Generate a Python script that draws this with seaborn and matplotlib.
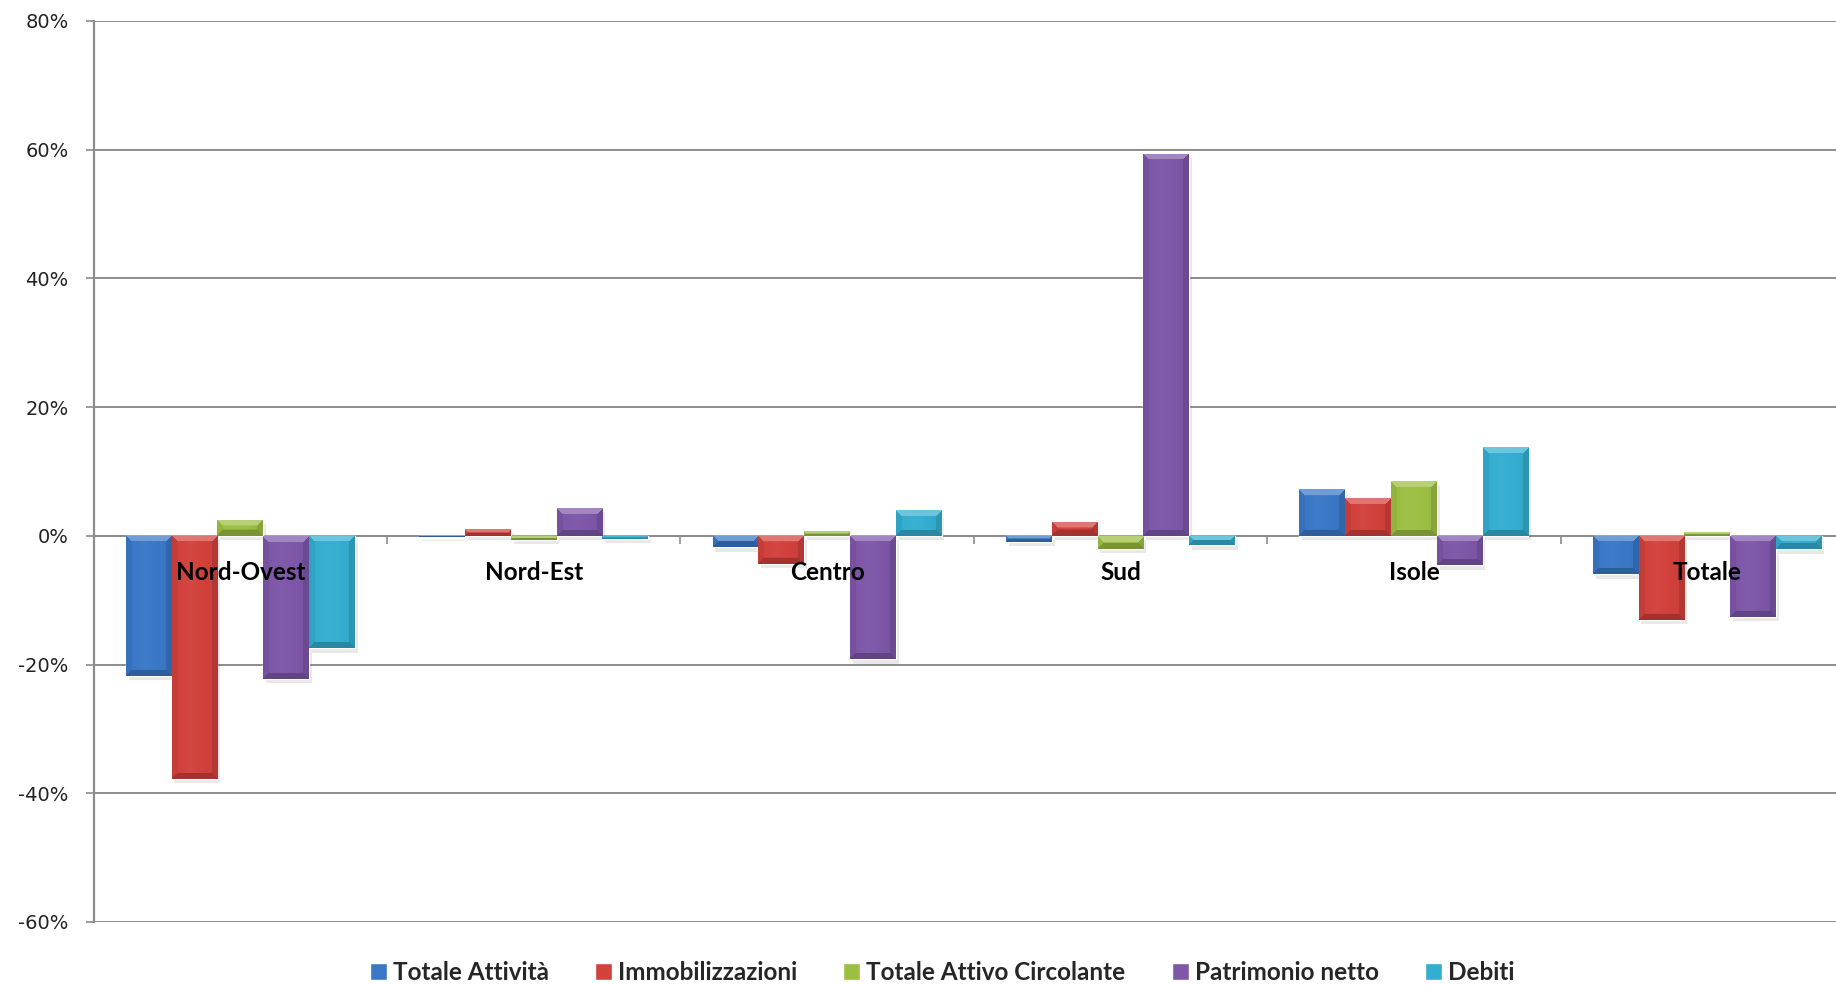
import numpy as np
import pandas as pd
import matplotlib
matplotlib.use("Agg")
import matplotlib.pyplot as plt
import matplotlib.patheffects as pe
from matplotlib.colors import to_rgb
from matplotlib.ticker import MultipleLocator, FuncFormatter, FixedLocator
import seaborn as sns

# Variazioni percentuali per area geografica
regions = ["Nord-Ovest", "Nord-Est", "Centro", "Sud", "Isole", "Totale"]
series = ["Totale Attività", "Immobilizzazioni", "Totale Attivo Circolante",
          "Patrimonio netto", "Debiti"]
totale_attivita = [-21.8, -0.2, -1.8, -1.0, 7.2, -6.0]
immobilizzazioni = [-37.8, 1.0, -4.4, 2.2, 5.9, -13.1]
attivo_circolante = [2.5, -0.6, 0.7, -2.0, 8.5, 0.6]
patrimonio_netto = [-22.2, 4.3, -19.2, 59.4, -4.6, -12.6]
debiti = [-17.5, -0.5, 4.0, -1.5, 13.8, -2.1]
colors = ["#3A78C6", "#D2413C", "#9CBF43", "#7E57A9", "#34AED0"]

values = [totale_attivita, immobilizzazioni, attivo_circolante, patrimonio_netto, debiti]
df = pd.DataFrame([
    {"Regione": r, "Serie": s, "Valore": v}
    for s, vals in zip(series, values)
    for r, v in zip(regions, vals)
])

sns.set_theme(style="white")
plt.rcParams["font.family"] = ["DejaVu Sans"]

fig = plt.figure(figsize=(18.36, 9.85), dpi=100)
ax = fig.add_axes([0.051, 0.064, 0.9588, 0.9147])

sns.barplot(data=df, x="Regione", y="Valore", hue="Serie", order=regions,
            hue_order=series, palette=colors, saturation=1, width=0.78,
            ax=ax, errorbar=None)

ax.set_xlim(-0.5, 5.5)
ax.set_ylim(-60, 80)
ax.set_xlabel("")
ax.set_ylabel("")

# Axis styling
grid_c = "#8C8C8C"
ax.yaxis.set_major_locator(MultipleLocator(20))
ax.yaxis.set_major_formatter(FuncFormatter(lambda v, p: f"{int(round(v))}%"))
ax.set_axisbelow(True)
ax.xaxis.set_zorder(5)
ax.yaxis.grid(True, color=grid_c, lw=1.4)
ax.xaxis.grid(False)
for side in ("top", "right"):
    ax.spines[side].set_visible(False)
ax.spines["left"].set_color(grid_c)
ax.spines["left"].set_linewidth(1.6)
ax.spines["bottom"].set_position(("data", 0))
ax.spines["bottom"].set_color(grid_c)
ax.spines["bottom"].set_linewidth(1.4)
ax.spines["bottom"].set_zorder(0.6)

ax.tick_params(axis="y", direction="out", length=6, width=1.2, color=grid_c,
               pad=12, labelsize=14, labelcolor="#222222", left=True)
ax.xaxis.set_minor_locator(FixedLocator(np.arange(0.5, 5.5, 1.0)))
ax.tick_params(axis="x", which="minor", direction="out", length=6, width=1.2,
               color=grid_c, bottom=True)
ax.tick_params(axis="x", which="major", length=0, pad=18)
for lab in ax.get_xticklabels():
    lab.set_fontfamily("Lato")
    lab.set_fontweight("bold")
    lab.set_fontsize(17.5)
    lab.set_color("black")

# Bevelled bar faces with a soft drop shadow
fig.canvas.draw()
bars = [p for p in ax.patches if p.get_width() > 0 and abs(p.get_height()) > 0]
to_px = ax.transData
for p in bars:
    p.set_path_effects([pe.SimplePatchShadow(offset=(2, -3), alpha=0.12,
                                             shadow_rgbFace="#444444"), pe.Normal()])
    x0, y0 = p.get_x(), p.get_y()
    w, h = p.get_width(), p.get_height()
    ya, yb = min(y0, y0 + h), max(y0, y0 + h)
    (px0, py0) = to_px.transform((x0, ya))
    (px1, py1) = to_px.transform((x0 + w, yb))
    nx = max(int(round(px1 - px0)), 2)
    ny = max(int(round(py1 - py0)), 2)
    base = np.array(to_rgb(p.get_facecolor()))
    jj, ii = np.meshgrid(np.arange(nx) + 0.5, np.arange(ny) + 0.5)
    d_top, d_bot = ii, ny - ii
    d_l, d_r = jj, nx - jj
    b = min(6.0, nx / 3.0, ny / 2.0)
    shade = np.zeros((ny, nx))
    # gentle horizontal gradient across the face
    shade += 0.06 * (1 - 2 * np.abs(jj / nx - 0.4)) - 0.03
    dmin = np.minimum.reduce([d_top, d_bot, d_l, d_r])
    edge = dmin < b
    top = edge & (d_top == dmin)
    bot = edge & (d_bot == dmin) & ~top
    left = edge & (d_l == dmin) & ~top & ~bot
    right = edge & (d_r == dmin) & ~top & ~bot & ~left
    shade[top] = 0.28
    shade[left] = -0.06
    shade[right] = -0.14
    shade[bot] = -0.22
    img = np.empty((ny, nx, 3))
    for c in range(3):
        ch = base[c]
        img[..., c] = np.where(shade >= 0, ch + (1 - ch) * shade, ch * (1 + shade))
    im = ax.imshow(img, extent=(x0, x0 + w, ya, yb), origin="upper",
                   aspect="auto", interpolation="bilinear", zorder=p.get_zorder() + 0.1)
    im.set_clip_path(p)

ax.set_xlim(-0.5, 5.5)
ax.set_ylim(-60, 80)
ax.set_aspect("auto")

# Legend under the plot
sns.move_legend(ax, "center", bbox_to_anchor=(0.482, -0.056), ncol=5,
                frameon=False, title=None, handlelength=0.7, handleheight=0.7,
                handletextpad=0.25, columnspacing=1.9,
                prop={"family": "Lato", "weight": "bold", "size": 17.5})

fig.savefig("out.png", dpi=100)
